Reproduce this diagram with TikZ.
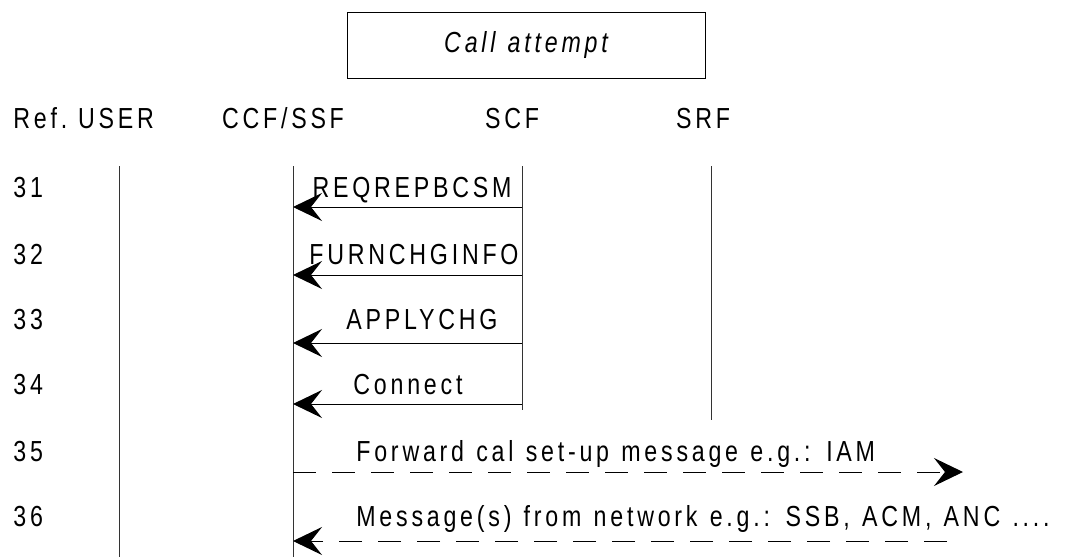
\documentclass[tikz,border=0pt]{standalone}
\usepackage{fontspec}
\setmainfont{Liberation Sans}[FakeStretch=0.8,LetterSpace=13,WordSpace=1.2]
\usepackage{tikz}
\usetikzlibrary{arrows.meta}
\newcommand{\chartfont}{\fontsize{14.5}{17}\selectfont}
\tikzset{
  lifeline/.style={line width=0.5pt,black!80},
  msgarrow/.style={-{Stealth[length=14.5pt,width=14pt,inset=5.5pt]},line width=0.5pt,black},
  fwdarrow/.style={msgarrow,dash pattern=on 11.5pt off 8pt},
  txtlabel/.style={inner sep=0pt,font=\chartfont},
  hdrlabel/.style={txtlabel,anchor=base},
  reflabel/.style={txtlabel,anchor=base west},
  msglabel/.style={txtlabel,anchor=base},
  titlebox/.style={draw,line width=0.5pt,minimum width=179pt,minimum height=33pt,
    inner sep=0pt,font=\chartfont\itshape},
}

\begin{document}
\begin{tikzpicture}[x=0.5pt,y=-0.5pt]
  \useasboundingbox (0,0) rectangle (1065,557);
  \node[titlebox] (title) at (526,45) {Call attempt};
  % column heads
  \node[reflabel] (hRef) at (13,128) {Ref.};
  \node[hdrlabel] (hUSER) at (116,128) {USER};
  \node[hdrlabel] (hCCF) at (283,128) {CCF/SSF};
  \node[hdrlabel] (hSCF) at (512,128) {SCF};
  \node[hdrlabel] (hSRF) at (703,128) {SRF};
  % life lines
  \coordinate (userTop) at (119,166);
  \coordinate (userBot) at (119,557);
  \coordinate (ccfTop) at (293,166);
  \coordinate (ccfBot) at (293,557);
  \coordinate (scfTop) at (522,166);
  \coordinate (scfBot) at (522,410);
  \coordinate (srfTop) at (711,166);
  \coordinate (srfBot) at (711,420);
  \draw[lifeline] (userTop) -- (userBot);
  \draw[lifeline] (ccfTop) -- (ccfBot);
  \draw[lifeline] (scfTop) -- (scfBot);
  \draw[lifeline] (srfTop) -- (srfBot);
  % step numbers
  \node[reflabel] (r31) at (13,197) {31};
  \node[reflabel] (r32) at (13,264) {32};
  \node[reflabel] (r33) at (13,329) {33};
  \node[reflabel] (r34) at (13,394) {34};
  \node[reflabel] (r35) at (13,461) {35};
  \node[reflabel] (r36) at (13,526) {36};
  % SCF -> CCF/SSF operations
  \coordinate (scf31) at (522,207);
  \coordinate (ccf31) at (293,207);
  \coordinate (scf32) at (522,275);
  \coordinate (ccf32) at (293,275);
  \coordinate (scf33) at (522,343);
  \coordinate (ccf33) at (293,343);
  \coordinate (scf34) at (522,404);
  \coordinate (ccf34) at (293,404);
  \node[msglabel] (m31) at (412,197) {REQREPBCSM};
  \node[msglabel] (m32) at (414,264) {FURNCHGINFO};
  \node[msglabel] (m33) at (422,329) {APPLYCHG};
  \node[msglabel] (m34) at (408,394) {Connect};
  \draw[msgarrow] (scf31) -- (ccf31);
  \draw[msgarrow] (scf32) -- (ccf32);
  \draw[msgarrow] (scf33) -- (ccf33);
  \draw[msgarrow] (scf34) -- (ccf34);
  % network side
  \coordinate (ccf35) at (293,472);
  \coordinate (net35) at (963,472);
  \coordinate (net36) at (947,541);
  \coordinate (ccf36) at (293,541);
  \node[reflabel] (m35) at (356,461) {Forward cal set-up message e.g.: IAM};
  \node[reflabel] (m36) at (356,526) {Message(s) from network e.g.: SSB, ACM, ANC ....};
  \draw[fwdarrow] (ccf35) -- (net35);
  \draw[fwdarrow] (net36) -- (ccf36);
\end{tikzpicture}
\end{document}
